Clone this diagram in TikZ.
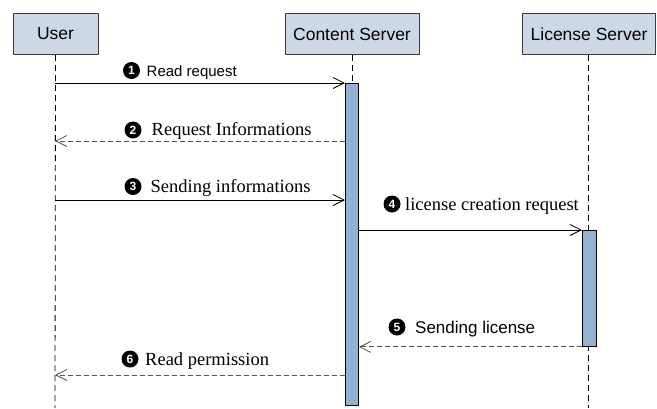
\documentclass[tikz,border=0pt]{standalone}
\usepackage{fontspec}
\setmainfont{Liberation Serif}
\newfontfamily\sansf{Liberation Sans}
\usetikzlibrary{arrows.meta}
\definecolor{hdrfill}{RGB}{205,216,230}
\definecolor{barfill}{RGB}{149,177,210}
\definecolor{edge}{RGB}{60,60,60}
\definecolor{dashc}{RGB}{85,85,85}
\tikzset{
  hdr/.style={draw=edge, line width=1pt, fill=hdrfill, inner sep=0pt, anchor=north west,
    font=\sansf\fontsize{17.5}{19}\selectfont},
  actbar/.style={draw=black, line width=0.9pt, fill=barfill},
  lifeline/.style={draw=black, line width=0.8pt, dash pattern=on 6pt off 4pt},
  msg/.style={line width=0.9pt, -{Straight Barb[length=11pt,width=11pt,line width=0.8pt]}},
  reply/.style={msg, draw=dashc, dash pattern=on 5pt off 3pt},
  numc/.style={circle, fill=black, inner sep=0pt, minimum size=17pt,
    text=white, font=\sansf\bfseries\fontsize{12}{12}\selectfont},
  slab/.style={anchor=base west, inner sep=0pt, font=\sansf\fontsize{15}{16}\selectfont},
  rlab/.style={anchor=base west, inner sep=0pt, font=\fontsize{18.5}{20}\selectfont},
}
\begin{document}
\begin{tikzpicture}[x=1pt, y=-1pt]
\useasboundingbox (0,0) rectangle (657,408);
% headers
\node[hdr, minimum width=85pt, minimum height=41pt] (user) at (12.5,13) {User};
\node[hdr, minimum width=134pt, minimum height=41pt] (cs) at (284.5,13) {Content Server};
\node[hdr, minimum width=133pt, minimum height=41pt] (ls) at (522,13) {License Server};
% lifeline ends
\coordinate (ubot) at (55,408);
\coordinate (cbot) at (352,405);
\coordinate (lbot) at (588.5,408);
\draw[lifeline] (user.south) -- (ubot);
\draw[lifeline] (cs.south -| cbot) -- (cbot);
\draw[lifeline] (ls.south -| lbot) -- (lbot);
% activation bars
\node[actbar, minimum width=13pt, minimum height=322pt, inner sep=0pt, anchor=north west] (cbar) at (345,83) {};
\node[actbar, minimum width=14pt, minimum height=116pt, inner sep=0pt, anchor=north west] (lbar) at (582,230) {};
% message end points on the user lifeline
\coordinate (u1) at (55,83);
\coordinate (u2) at (55,141);
\coordinate (u3) at (55,200);
\coordinate (u6) at (55,375);
% messages
\draw[msg] (u1) -- (u1 -| cbar.west);
\draw[reply] (u2 -| cbar.west) -- (u2);
\draw[msg] (u3) -- (u3 -| cbar.west);
\draw[msg] (cbar.east |- lbar.north) -- (lbar.north west);
\draw[reply] (lbar.south west) -- (cbar.east |- lbar.south);
\draw[reply] (u6 -| cbar.west) -- (u6);
% labels
\node[numc] (n1) at (131.5,70.5) {1};
\node[slab] (t1) at (146.5,76) {Read request};
\node[numc] (n2) at (133,130) {2};
\node[rlab] (t2) at (151.5,135) {Request Informations};
\node[numc] (n3) at (133,186.5) {3};
\node[rlab] (t3) at (150.5,192.5) {Sending informations};
\node[numc] (n4) at (392,204) {4};
\node[rlab] (t4) at (405,210) {license creation request};
\node[numc] (n5) at (397,327) {5};
\node[slab, font=\sansf\fontsize{17}{18}\selectfont] (t5) at (415,333) {Sending license};
\node[numc] (n6) at (130,359) {6};
\node[rlab] (t6) at (145,365) {Read permission};
\end{tikzpicture}
\end{document}
